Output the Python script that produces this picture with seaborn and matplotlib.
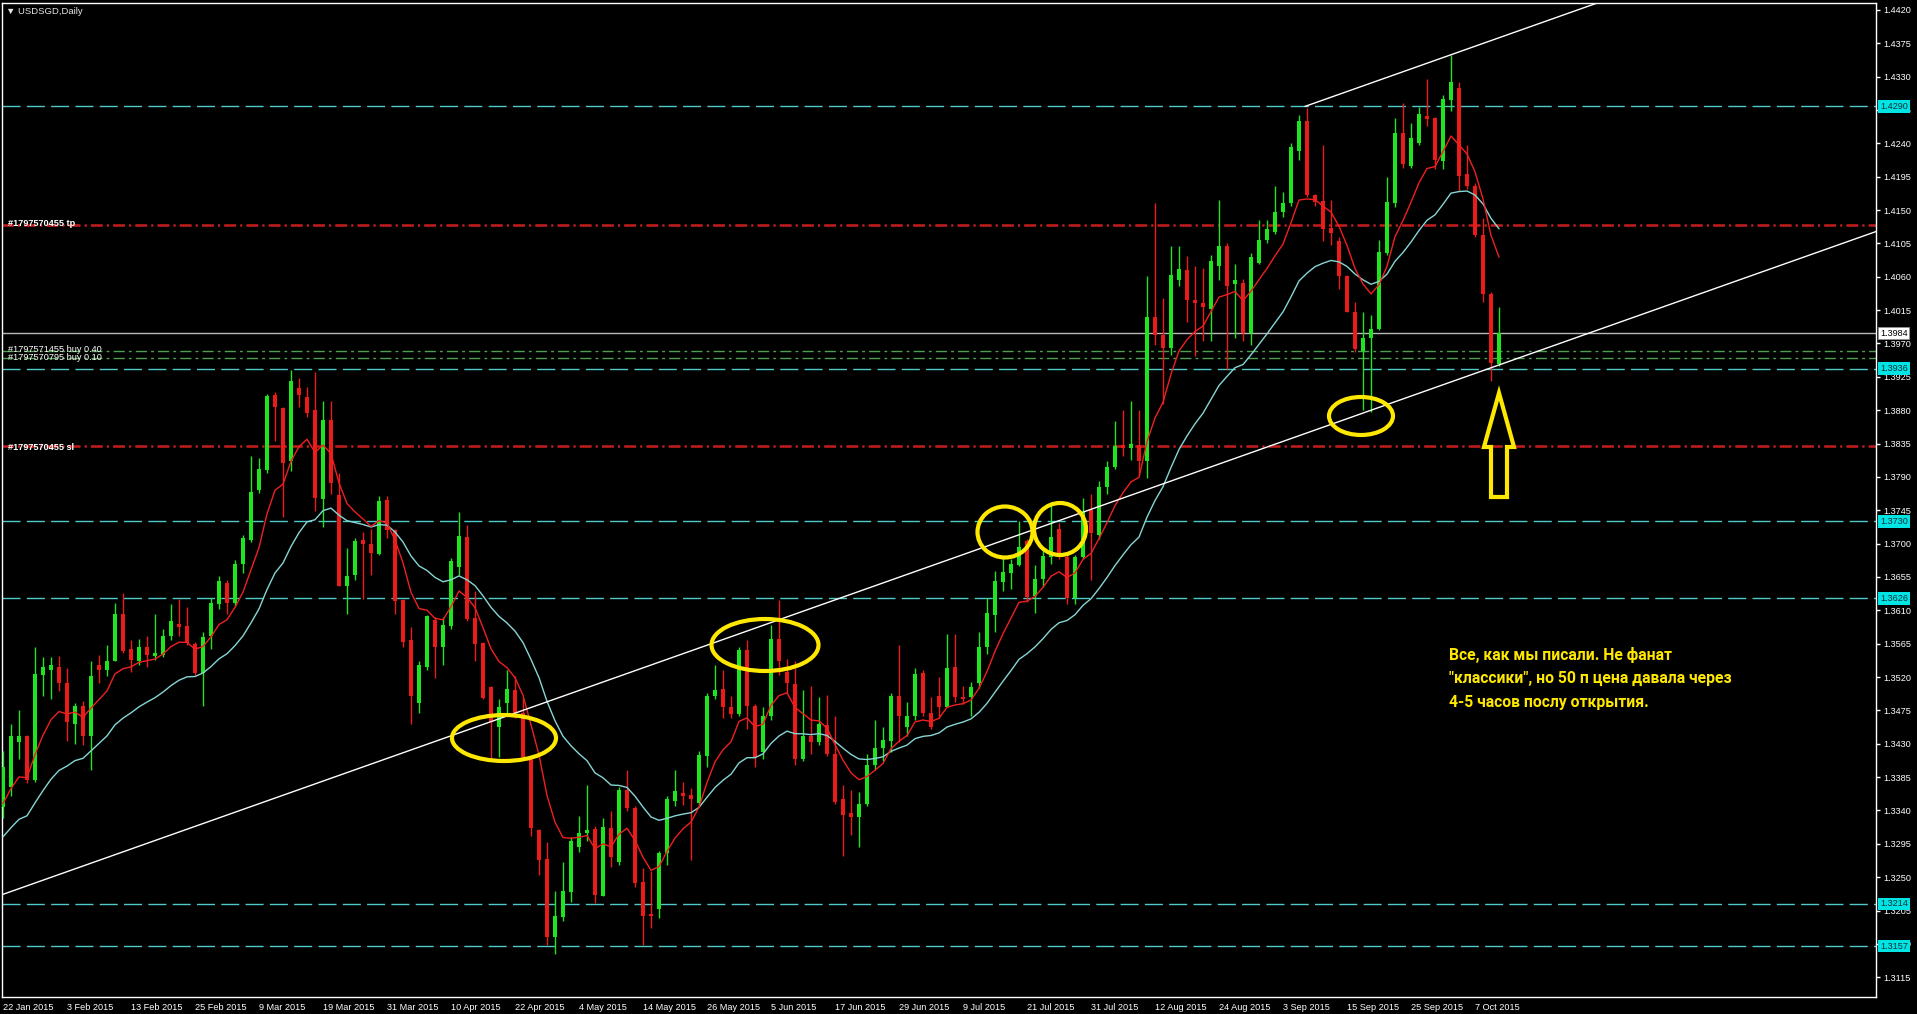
import numpy as np
import pandas as pd
import matplotlib
matplotlib.use("Agg")
import matplotlib.pyplot as plt
import seaborn as sns
from matplotlib.patches import Ellipse, Polygon

W, H = 1917, 1014

# ---------------- data ----------------
dates = pd.bdate_range("2015-01-22", "2015-10-12")

opens = [1.3345, 1.3372, 1.3433, 1.3441, 1.3381, 1.3523, 1.3530, 1.3533, 1.3512, 1.3457,
         1.3481, 1.3440, 1.3536, 1.3529, 1.3542, 1.3605, 1.3558, 1.3542, 1.3561, 1.3548,
         1.3550, 1.3575, 1.3592, 1.3589, 1.3565, 1.3525, 1.3576, 1.3618, 1.3647, 1.3620,
         1.3672, 1.3705, 1.3772, 1.3799, 1.3900, 1.3883, 1.3811, 1.3910, 1.3898, 1.3880,
         1.3760, 1.3867, 1.3765, 1.3643, 1.3658, 1.3705, 1.3700, 1.3686, 1.3759, 1.3718,
         1.3624, 1.3570, 1.3485, 1.3534, 1.3597, 1.3561, 1.3589, 1.3669, 1.3709, 1.3600,
         1.3566, 1.3506, 1.3452, 1.3485, 1.3503, 1.3472, 1.3411, 1.3314, 1.3275, 1.3169,
         1.3196, 1.3230, 1.3291, 1.3310, 1.3315, 1.3225, 1.3317, 1.3271, 1.3368, 1.3344,
         1.3243, 1.3201, 1.3207, 1.3282, 1.3353, 1.3364, 1.3361, 1.3350, 1.3414, 1.3494,
         1.3504, 1.3479, 1.3470, 1.3557, 1.3481, 1.3419, 1.3468, 1.3571, 1.3527, 1.3511,
         1.3410, 1.3440, 1.3432, 1.3456, 1.3416, 1.3355, 1.3336, 1.3331, 1.3349, 1.3401,
         1.3424, 1.3434, 1.3494, 1.3453, 1.3467, 1.3526, 1.3471, 1.3494, 1.3480, 1.3534,
         1.3493, 1.3493, 1.3512, 1.3560, 1.3604, 1.3648, 1.3660, 1.3671, 1.3703, 1.3630,
         1.3652, 1.3682, 1.3720, 1.3682, 1.3627, 1.3682, 1.3746, 1.3712, 1.3776, 1.3804,
         1.3833, 1.3829, 1.3833, 1.3811, 1.4006, 1.3981, 1.3964, 1.4055, 1.4069, 1.4029,
         1.4025, 1.4017, 1.4074, 1.4102, 1.4050, 1.4052, 1.3984, 1.4079, 1.4110, 1.4121,
         1.4148, 1.4159, 1.4230, 1.4270, 1.4170, 1.4162, 1.4126, 1.4108, 1.4061, 1.4013,
         1.3960, 1.3977, 1.3990, 1.4092, 1.4159, 1.4254, 1.4210, 1.4241, 1.4277, 1.4274,
         1.4216, 1.4298, 1.4314, 1.4199, 1.4182, 1.4117, 1.4037, 1.3942]

highs = [1.3420, 1.3457, 1.3476, 1.3442, 1.3561, 1.3547, 1.3547, 1.3548, 1.3532, 1.3485,
         1.3488, 1.3541, 1.3550, 1.3563, 1.3620, 1.3634, 1.3570, 1.3572, 1.3576, 1.3605,
         1.3585, 1.3618, 1.3625, 1.3614, 1.3567, 1.3581, 1.3627, 1.3656, 1.3651, 1.3678,
         1.3711, 1.3818, 1.3815, 1.3902, 1.3904, 1.3884, 1.3934, 1.3924, 1.3911, 1.3932,
         1.3892, 1.3893, 1.3795, 1.3694, 1.3707, 1.3716, 1.3720, 1.3764, 1.3764, 1.3720,
         1.3625, 1.3587, 1.3541, 1.3604, 1.3601, 1.3601, 1.3680, 1.3743, 1.3725, 1.3636,
         1.3567, 1.3508, 1.3491, 1.3530, 1.3521, 1.3492, 1.3413, 1.3315, 1.3297, 1.3232,
         1.3271, 1.3304, 1.3333, 1.3375, 1.3319, 1.3330, 1.3339, 1.3372, 1.3395, 1.3346,
         1.3262, 1.3259, 1.3286, 1.3359, 1.3395, 1.3379, 1.3370, 1.3420, 1.3499, 1.3536,
         1.3530, 1.3494, 1.3561, 1.3570, 1.3483, 1.3480, 1.3590, 1.3624, 1.3545, 1.3541,
         1.3502, 1.3508, 1.3493, 1.3496, 1.3468, 1.3374, 1.3368, 1.3365, 1.3416, 1.3462,
         1.3453, 1.3499, 1.3563, 1.3487, 1.3532, 1.3529, 1.3493, 1.3520, 1.3578, 1.3578,
         1.3508, 1.3514, 1.3581, 1.3626, 1.3663, 1.3682, 1.3679, 1.3731, 1.3706, 1.3671,
         1.3691, 1.3752, 1.3728, 1.3685, 1.3685, 1.3761, 1.3767, 1.3785, 1.3811, 1.3865,
         1.3880, 1.3893, 1.3880, 1.4061, 1.4159, 1.4032, 1.4101, 1.4101, 1.4088, 1.4074,
         1.4072, 1.4090, 1.4163, 1.4105, 1.4077, 1.4057, 1.4092, 1.4136, 1.4136, 1.4183,
         1.4174, 1.4241, 1.4278, 1.4287, 1.4172, 1.4238, 1.4163, 1.4114, 1.4063, 1.4026,
         1.4012, 1.4009, 1.4110, 1.4194, 1.4274, 1.4294, 1.4267, 1.4289, 1.4327, 1.4276,
         1.4305, 1.4359, 1.4323, 1.4238, 1.4187, 1.4139, 1.4039, 1.4019]

lows = [1.3330, 1.3360, 1.3410, 1.3377, 1.3379, 1.3494, 1.3490, 1.3501, 1.3434, 1.3430,
        1.3428, 1.3395, 1.3512, 1.3521, 1.3541, 1.3552, 1.3527, 1.3536, 1.3534, 1.3543,
        1.3547, 1.3570, 1.3576, 1.3563, 1.3523, 1.3481, 1.3558, 1.3612, 1.3605, 1.3616,
        1.3660, 1.3702, 1.3768, 1.3795, 1.3838, 1.3736, 1.3798, 1.3884, 1.3871, 1.3744,
        1.3722, 1.3767, 1.3643, 1.3605, 1.3651, 1.3625, 1.3658, 1.3685, 1.3707, 1.3605,
        1.3561, 1.3457, 1.3472, 1.3530, 1.3519, 1.3536, 1.3585, 1.3658, 1.3596, 1.3541,
        1.3490, 1.3408, 1.3412, 1.3472, 1.3465, 1.3408, 1.3306, 1.3253, 1.3158, 1.3146,
        1.3191, 1.3217, 1.3284, 1.3299, 1.3215, 1.3224, 1.3264, 1.3266, 1.3339, 1.3237,
        1.3158, 1.3182, 1.3195, 1.3266, 1.3346, 1.3348, 1.3273, 1.3348, 1.3399, 1.3490,
        1.3465, 1.3465, 1.3468, 1.3450, 1.3399, 1.3410, 1.3462, 1.3523, 1.3499, 1.3401,
        1.3407, 1.3416, 1.3429, 1.3413, 1.3349, 1.3279, 1.3307, 1.3291, 1.3346, 1.3395,
        1.3407, 1.3419, 1.3432, 1.3441, 1.3462, 1.3468, 1.3450, 1.3465, 1.3479, 1.3487,
        1.3483, 1.3468, 1.3505, 1.3551, 1.3581, 1.3636, 1.3639, 1.3670, 1.3621, 1.3606,
        1.3642, 1.3673, 1.3679, 1.3618, 1.3618, 1.3679, 1.3651, 1.3706, 1.3767, 1.3801,
        1.3818, 1.3813, 1.3791, 1.3789, 1.3968, 1.3888, 1.3955, 1.4048, 1.3999, 1.3953,
        1.3973, 1.3973, 1.4055, 1.3935, 1.3977, 1.3973, 1.3968, 1.4077, 1.4105, 1.4118,
        1.4141, 1.4156, 1.4218, 1.4168, 1.4156, 1.4108, 1.4103, 1.4043, 1.4012, 1.3959,
        1.3880, 1.3877, 1.3988, 1.4090, 1.4154, 1.4207, 1.4207, 1.4238, 1.4263, 1.4205,
        1.4205, 1.4283, 1.4176, 1.4179, 1.4114, 1.4026, 1.3919, 1.3939]

closes = [1.3399, 1.3441, 1.3440, 1.3381, 1.3524, 1.3533, 1.3536, 1.3512, 1.3459, 1.3481,
          1.3441, 1.3522, 1.3530, 1.3542, 1.3605, 1.3555, 1.3543, 1.3561, 1.3550, 1.3552,
          1.3575, 1.3596, 1.3588, 1.3566, 1.3525, 1.3574, 1.3620, 1.3649, 1.3620, 1.3672,
          1.3707, 1.3769, 1.3800, 1.3899, 1.3884, 1.3809, 1.3919, 1.3900, 1.3876, 1.3761,
          1.3867, 1.3782, 1.3643, 1.3657, 1.3703, 1.3700, 1.3688, 1.3758, 1.3718, 1.3623,
          1.3567, 1.3495, 1.3536, 1.3602, 1.3561, 1.3590, 1.3677, 1.3710, 1.3598, 1.3565,
          1.3492, 1.3459, 1.3480, 1.3504, 1.3472, 1.3412, 1.3316, 1.3273, 1.3169, 1.3198,
          1.3231, 1.3299, 1.3309, 1.3314, 1.3226, 1.3318, 1.3277, 1.3368, 1.3344, 1.3242,
          1.3198, 1.3197, 1.3282, 1.3356, 1.3366, 1.3359, 1.3356, 1.3415, 1.3494, 1.3503,
          1.3479, 1.3470, 1.3557, 1.3481, 1.3412, 1.3468, 1.3571, 1.3541, 1.3512, 1.3410,
          1.3441, 1.3432, 1.3457, 1.3416, 1.3352, 1.3334, 1.3331, 1.3349, 1.3401, 1.3424,
          1.3435, 1.3494, 1.3468, 1.3468, 1.3524, 1.3471, 1.3453, 1.3479, 1.3532, 1.3493,
          1.3490, 1.3506, 1.3561, 1.3606, 1.3650, 1.3662, 1.3673, 1.3695, 1.3628, 1.3652,
          1.3683, 1.3709, 1.3683, 1.3627, 1.3682, 1.3743, 1.3715, 1.3776, 1.3804, 1.3832,
          1.3829, 1.3835, 1.3811, 1.4006, 1.3981, 1.3964, 1.4062, 1.4070, 1.4028, 1.4025,
          1.4019, 1.4081, 1.4101, 1.4048, 1.4055, 1.3984, 1.4086, 1.4110, 1.4124, 1.4148,
          1.4159, 1.4235, 1.4270, 1.4170, 1.4161, 1.4125, 1.4119, 1.4061, 1.4012, 1.3962,
          1.3977, 1.3990, 1.4093, 1.4161, 1.4254, 1.4212, 1.4247, 1.4279, 1.4273, 1.4218,
          1.4300, 1.4323, 1.4196, 1.4183, 1.4117, 1.4037, 1.3944, 1.3984]

# moving average settings (periods) and their values just before the first visible bar
ma_periods = [8, 21]
ma_seeds = [1.3335, 1.3295]

# horizontal levels
level_prices = [1.4290, 1.3936, 1.3730, 1.3626, 1.3214, 1.3157]
tp_price = 1.4128
sl_price = 1.3830
buy_prices = [1.3960, 1.3950]
buy_labels = ["#1797571455 buy 0.40", "#1797570795 buy 0.10"]
bid_price = 1.3984

# trend channel (bar index, price)
trend_lower_x = [45.875, 234.125]
trend_lower_y = [1.34021, 1.41210]
trend_upper_start = (162.75, 1.42898)

ytick_values = [round(1.3115 + 0.0045 * k, 4) for k in range(30)]

# ---------------- styling ----------------
sns.set_theme(style="dark", rc={
    "axes.facecolor": "black", "figure.facecolor": "black",
    "axes.edgecolor": "white", "axes.linewidth": 1.0,
    "xtick.color": "white", "ytick.color": "white", "text.color": "white",
    "lines.scale_dashes": False, "axes.grid": False,
})
plt.rcParams["font.family"] = ["Liberation Sans", "DejaVu Sans"]

GREEN = "#1fe51f"
RED = "#ec1a1a"
CYAN = "#4fc9c9"
LEVEL_RED = "#c81e1e"
ORDER_GREEN = "#4f9f4f"
YELLOW = "#ffe800"

fig = plt.figure(figsize=(W / 100, H / 100), dpi=100)
ax = fig.add_axes([2 / W, 1 - 997 / H, (1876 - 2) / W, (997 - 3) / H])
ax.set_xlim(-0.125, 234.125)
ax.set_ylim(1.30884, 1.44293)

idx = np.arange(len(closes))
o = np.array(opens); h = np.array(highs); l = np.array(lows); c = np.array(closes)
up = c >= o
cols = np.where(up, GREEN, RED)

# levels
for p in level_prices:
    ax.axhline(p, color=CYAN, lw=1, linestyle=(0, (13, 4.5)), zorder=1)
for p in (tp_price, sl_price):
    for off in (0.0, 0.00014):
        ax.axhline(p + off, color=LEVEL_RED, lw=1.1, linestyle=(0, (8.5, 3, 1.5, 3)), zorder=1)
for p in buy_prices:
    ax.axhline(p, color=ORDER_GREEN, lw=1, linestyle=(0, (8, 3, 2, 3)), zorder=1)
ax.axhline(bid_price, color="#b8b8b8", lw=1, zorder=1)

# candles
ax.vlines(idx, l, h, colors=cols, lw=1, zorder=3)
body_bottom = np.minimum(o, c)
body_h = np.maximum(np.abs(c - o), 0.00012)
ax.bar(idx, body_h, bottom=body_bottom, width=0.62, color=cols, linewidth=0, zorder=4)

# moving averages
def ema(values, period, seed):
    a = 2.0 / (period + 1)
    out, e = [], seed
    for v in values:
        e = e + a * (v - e)
        out.append(e)
    return np.array(out)

ma_fast = ema(closes, ma_periods[0], ma_seeds[0])
ma_slow = ema(closes, ma_periods[1], ma_seeds[1])
sns.lineplot(x=idx, y=ma_slow, ax=ax, color="#86d6d6", linewidth=1, zorder=5)
sns.lineplot(x=idx, y=ma_fast, ax=ax, color="#f02020", linewidth=1, zorder=5)

# trend channel
ax.axline((trend_lower_x[0], trend_lower_y[0]), (trend_lower_x[1], trend_lower_y[1]),
          color="white", lw=1, zorder=6)
slope = (trend_lower_y[1] - trend_lower_y[0]) / (trend_lower_x[1] - trend_lower_x[0])
ux = np.array([trend_upper_start[0], 240.0])
ax.plot(ux, trend_upper_start[1] + slope * (ux - trend_upper_start[0]), color="white", lw=1, zorder=6)

# axes ticks
ax.yaxis.tick_right()
ax.set_yticks(ytick_values)
ax.set_yticklabels([f"{v:.4f}" for v in ytick_values], fontsize=6.6)
ax.tick_params(axis="y", direction="out", length=3, width=1, pad=2, colors="white")
xt = idx[::8]
ax.set_xticks(xt)
ax.set_xticklabels([f"{d.day} {d.strftime('%b %Y')}" for d in dates[::8]], fontsize=6.6, ha="left")
ax.tick_params(axis="x", direction="out", length=3, width=1, pad=1, colors="white")
for s in ax.spines.values():
    s.set_color("white")
    s.set_linewidth(1)

# price boxes on the right axis
ytr = ax.get_yaxis_transform()
for p in level_prices:
    ax.text(1.0 + 4 / 1874, p, f"{p:.4f}", transform=ytr, ha="left", va="center", fontsize=6.6,
            color="#10303a", clip_on=False, zorder=10,
            bbox=dict(boxstyle="square,pad=0.2", fc="#00e4e4", ec="none"))
ax.text(1.0 + 4 / 1874, bid_price, f"{bid_price:.4f}", transform=ytr, ha="left", va="center",
        fontsize=6.6, color="black", clip_on=False, zorder=10,
        bbox=dict(boxstyle="square,pad=0.2", fc="white", ec="#909090", lw=0.6))

# texts in figure pixel coordinates
def fx(px):
    return px / W

def fy(py):
    return 1 - py / H

fig.text(fx(6), fy(11), "\u25bc USDSGD,Daily", fontsize=6.8, color="#e6e6e6", va="center", ha="left")
fig.text(fx(8), fy(224), "#1797570455 tp", fontsize=6.6, color="white", fontweight="bold", va="center")
fig.text(fx(8), fy(448), "#1797570455 sl", fontsize=6.6, color="white", fontweight="bold", va="center")
fig.text(fx(8), fy(350), buy_labels[0], fontsize=6.6, color="white", va="center")
fig.text(fx(8), fy(358), buy_labels[1], fontsize=6.6, color="white", va="center")

ann = ["Все, как мы писали. Не фанат",
       "\"классики\", но 50 п цена давала через",
       "4-5 часов послу открытия."]
for k, line in enumerate(ann):
    fig.text(fx(1449), fy(655 + 23.5 * k), line, fontsize=11.3, fontweight="bold",
             color=YELLOW, family=["Roboto", "DejaVu Sans"], va="center", ha="left")

# yellow ellipses (pixel centres / sizes)
ellipses = [(504, 738, 104, 46), (765, 645, 107, 52), (1005, 532, 55, 51),
            (1060, 529, 52, 52), (1361, 416, 64, 38)]
for cx, cy, w, hh in ellipses:
    fig.add_artist(Ellipse((fx(cx), fy(cy)), w / W, hh / H, transform=fig.transFigure,
                           fill=False, ec=YELLOW, lw=3, zorder=20))

arrow_px = [(1491, 497), (1491, 447), (1484, 447), (1499, 393), (1514, 447), (1507, 447), (1507, 497)]
fig.add_artist(Polygon([(fx(x), fy(y)) for x, y in arrow_px], closed=True, fill=False,
                       ec=YELLOW, lw=3, joinstyle="miter", transform=fig.transFigure, zorder=20))

fig.savefig("out.png", dpi=100, facecolor="black")
